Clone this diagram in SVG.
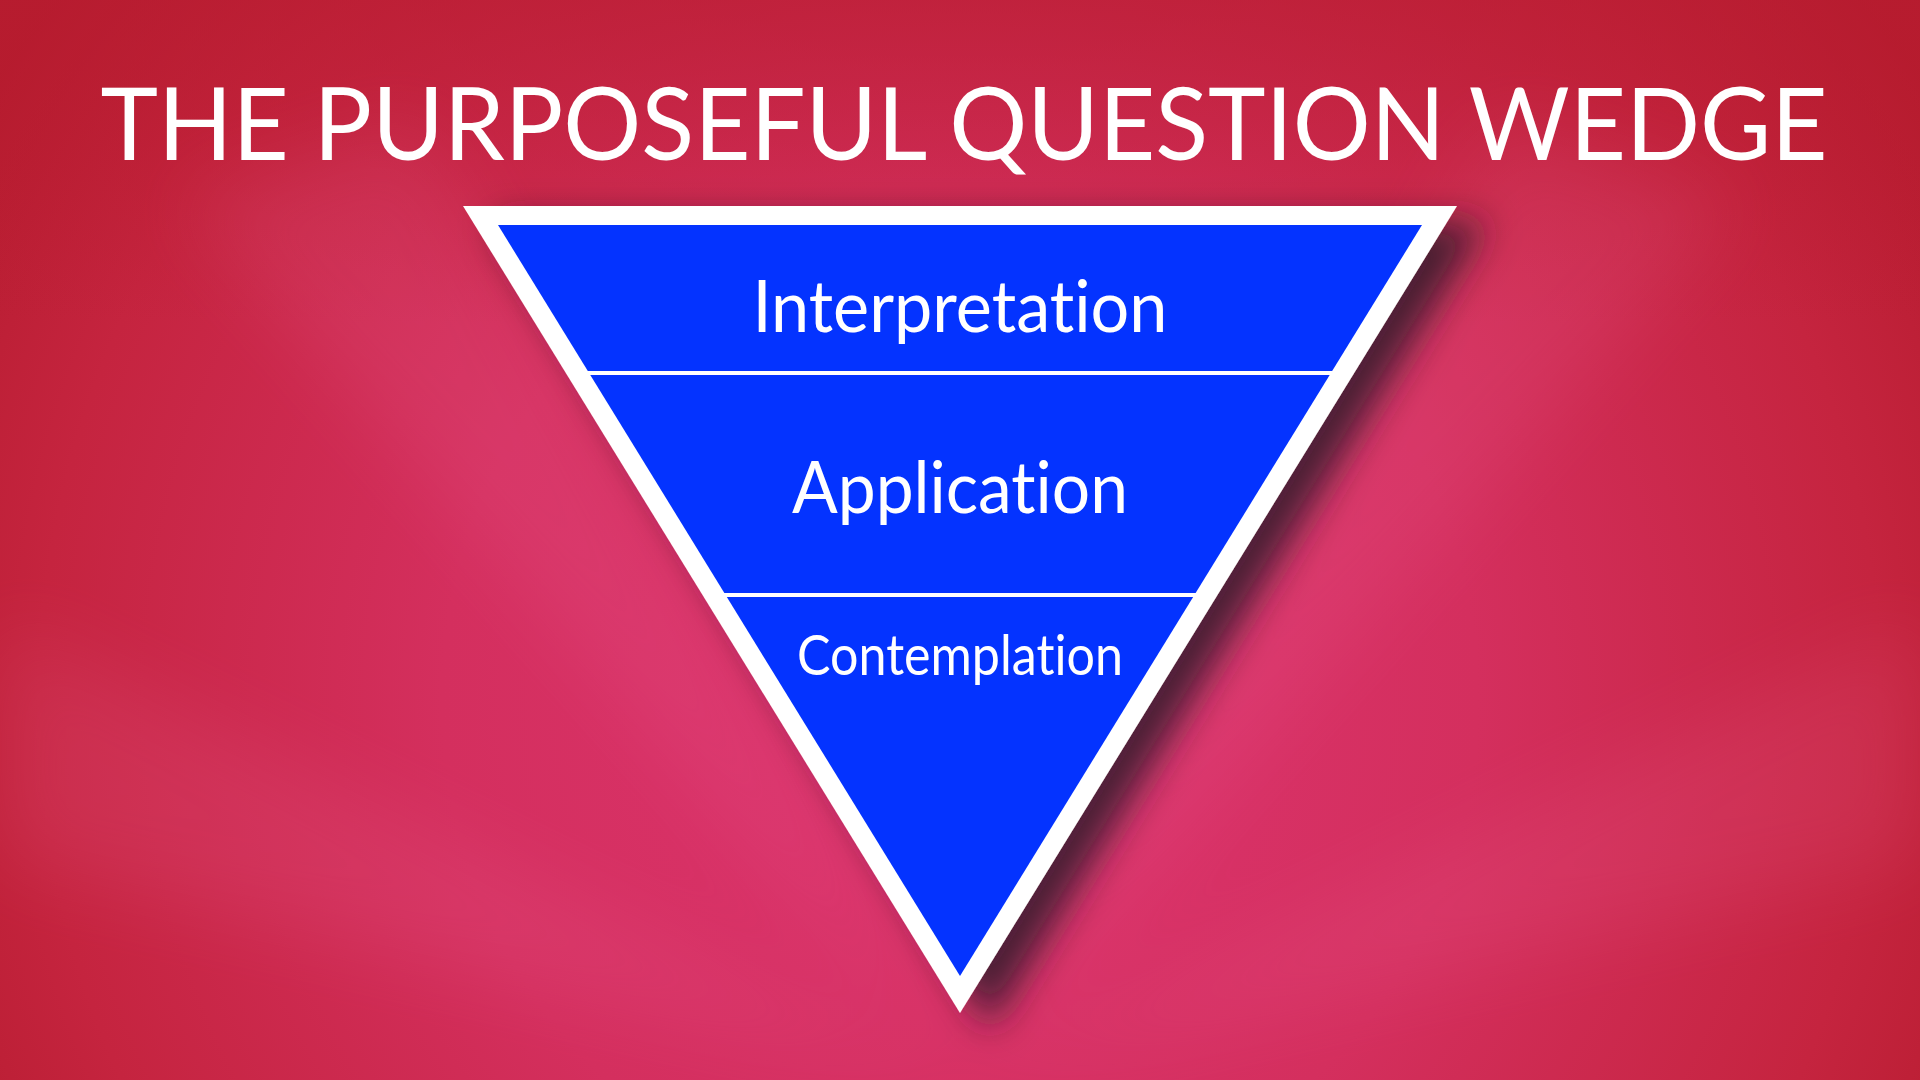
<svg xmlns="http://www.w3.org/2000/svg" width="1920" height="1080" viewBox="0 0 1920 1080">
  <defs>
    <radialGradient id="bg" cx="960" cy="700" r="1150" gradientUnits="userSpaceOnUse">
      <stop offset="0" stop-color="#dc3470"/>
      <stop offset="0.45" stop-color="#d42f5e"/>
      <stop offset="0.8" stop-color="#c5243f"/>
      <stop offset="1" stop-color="#b51b2d"/>
    </radialGradient>
    <linearGradient id="topfade" x1="0" y1="0" x2="0" y2="1">
      <stop offset="0" stop-color="#b81c30" stop-opacity="0.6"/>
      <stop offset="0.3" stop-color="#b81c30" stop-opacity="0"/>
    </linearGradient>
    <filter id="shadow" x="-20%" y="-20%" width="140%" height="140%">
      <feGaussianBlur in="SourceAlpha" stdDeviation="18"/>
      <feOffset dx="30" dy="16" result="b"/>
      <feFlood flood-color="#2a1a2a" flood-opacity="0.8"/>
      <feComposite in2="b" operator="in"/>
      <feMerge>
        <feMergeNode/>
        <feMergeNode in="SourceGraphic"/>
      </feMerge>
    </filter>
    <filter id="soft" x="-50%" y="-50%" width="200%" height="200%">
      <feGaussianBlur stdDeviation="40"/>
    </filter>
  </defs>
  <style>
    .title { font-family: "Lato", "Open Sans", "Liberation Sans", sans-serif; fill: #ffffff; text-anchor: middle; font-variant-ligatures: none; }
    .label { font-family: "Lato", "Open Sans", "Liberation Sans", sans-serif; fill: #ffffff; text-anchor: middle; font-variant-ligatures: none; }
    .divider { stroke: #ffffff; stroke-width: 4; }
  </style>
  <rect x="0" y="0" width="1920" height="1080" fill="url(#bg)"/>
  <rect x="0" y="0" width="1920" height="1080" fill="url(#topfade)"/>
  <g opacity="0.15" filter="url(#soft)" fill="#f06aa0">
    <polygon points="960,1080 180,200 420,120"/>
    <polygon points="960,1080 1740,200 1500,120"/>
    <polygon points="960,1080 0,620 0,860"/>
    <polygon points="960,1080 1920,620 1920,860"/>
  </g>
  <text class="title" x="964" y="160" font-size="100" textLength="1727" lengthAdjust="spacingAndGlyphs">THE PURPOSEFUL QUESTION WEDGE</text>
  <g id="wedge">
    <polygon points="463,206 1457,206 960,1013" fill="#ffffff" filter="url(#shadow)"/>
    <polygon points="498,225 1422,225 960,976" fill="#0433ff"/>
  </g>
  <g id="connectors">
    <line class="divider" x1="585" y1="373" x2="1335" y2="373"/>
    <line class="divider" x1="722" y1="595" x2="1198" y2="595"/>
  </g>
  <g id="node-interpretation">
    <text class="label" x="960" y="332" font-size="72" textLength="415" lengthAdjust="spacingAndGlyphs">Interpretation</text>
  </g>
  <g id="node-application">
    <text class="label" x="960" y="513" font-size="72" textLength="336" lengthAdjust="spacingAndGlyphs">Application</text>
  </g>
  <g id="node-contemplation">
    <text class="label" x="960" y="675" font-size="56" textLength="326" lengthAdjust="spacingAndGlyphs">Contemplation</text>
  </g>
</svg>
